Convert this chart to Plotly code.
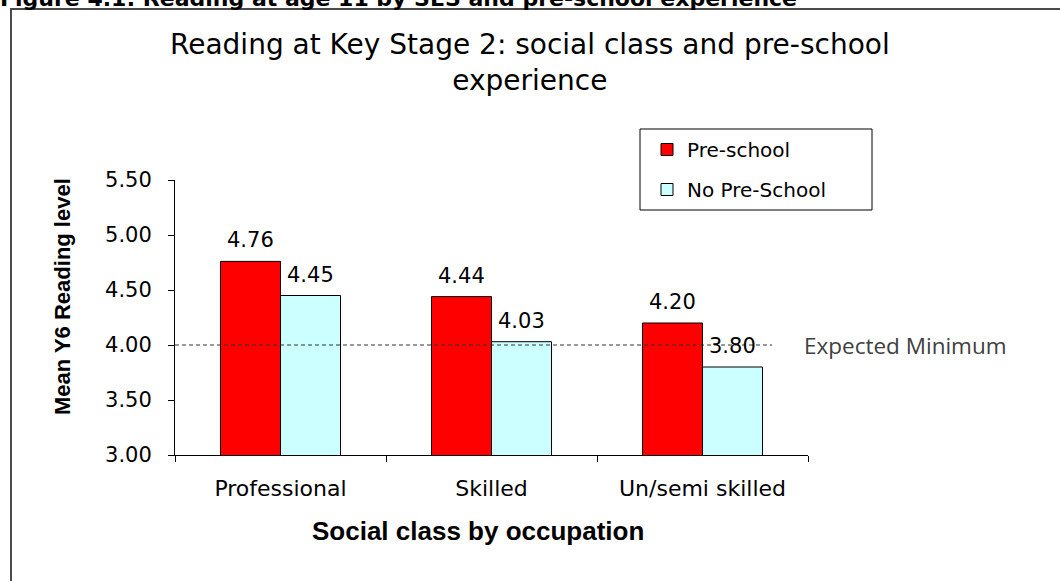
import plotly.graph_objects as go

# ---- data ----
categories = ["Professional", "Skilled", "Un/semi skilled"]
preschool = [4.76, 4.44, 4.20]
no_preschool = [4.45, 4.03, 3.80]
series_names = ["Pre-school", "No Pre-School"]
expected_minimum = 4.0
expected_label = "Expected Minimum"
y_ticks = [3.0, 3.5, 4.0, 4.5, 5.0, 5.5]
chart_title = "Reading at Key Stage 2: social class and pre-school<br>experience"
figure_caption = "Figure 4.1: Reading at age 11 by SES and pre-school experience"
x_title = "Social class by occupation"
y_title = "Mean Y6 Reading level"

# ---- layout helpers (pixel -> paper) ----
W, H = 1060, 581
L, R, T, B = 175, 808, 180, 455


def px(x):
    return (x - L) / (R - L)


def py(y):
    return (B - y) / (B - T)


MAIN_FONT = "DejaVu Sans"
BOLD_FONT = "Liberation Sans, Arial, sans-serif"

fig = go.Figure()
colors = ["#FF0000", "#CCFFFF"]
for i, (name, vals) in enumerate(zip(series_names, [preschool, no_preschool])):
    fig.add_trace(go.Bar(
        x=categories, y=vals, name=name,
        marker=dict(color=colors[i], line=dict(color="#000000", width=1)),
        legendgroup=name,
    ))

annotations = []
# bar value labels
for vals, shift in [(preschool, -30), (no_preschool, 30)]:
    for c, v in zip(categories, vals):
        annotations.append(dict(
            x=c, y=v, xref="x", yref="y", text=f"{v:.2f}", showarrow=False,
            xshift=shift, yshift=7, yanchor="bottom", xanchor="center",
            font=dict(family=MAIN_FONT, size=21, color="#000000"),
        ))

# chart title (two lines)
annotations.append(dict(x=px(530), y=py(63), xref="paper", yref="paper",
                        text=chart_title, showarrow=False,
                        xanchor="center", yanchor="middle",
                        font=dict(family=MAIN_FONT, size=28, color="#000000")))
# figure caption, clipped at top
annotations.append(dict(x=px(-2), y=py(13), xref="paper", yref="paper",
                        text=f"<b>{figure_caption}</b>", showarrow=False,
                        xanchor="left", yanchor="bottom",
                        font=dict(family=MAIN_FONT, size=22, color="#000000")))
# axis titles
annotations.append(dict(x=px(62), y=py(297), xref="paper", yref="paper",
                        text=f"<b>{y_title}</b>", showarrow=False, textangle=-90,
                        xanchor="center", yanchor="middle",
                        font=dict(family=BOLD_FONT, size=22, color="#000000")))
annotations.append(dict(x=px(478), y=py(531), xref="paper", yref="paper",
                        text=f"<b>{x_title}</b>", showarrow=False,
                        xanchor="center", yanchor="middle",
                        font=dict(family=BOLD_FONT, size=26, color="#000000")))
# expected minimum label
annotations.append(dict(x=px(802), y=expected_minimum, xref="paper", yref="y",
                        text=expected_label, showarrow=False, xanchor="left",
                        yanchor="middle",
                        font=dict(family="Open Sans", size=22.5, color="#404040")))

shapes = [
    # chart frame
    dict(type="rect", xref="paper", yref="paper", x0=px(11), x1=px(1075),
         y0=py(600), y1=py(9), line=dict(color="#4a4a4a", width=2),
         fillcolor="rgba(0,0,0,0)", layer="below"),
    # expected minimum dashed line
    dict(type="line", xref="paper", yref="y", x0=0, x1=px(772),
         y0=expected_minimum, y1=expected_minimum,
         line=dict(color="#333333", width=1, dash="4px,3px"), layer="above"),
    # legend box
    dict(type="rect", xref="paper", yref="paper", x0=px(640), x1=px(872),
         y0=py(210), y1=py(129), line=dict(color="#000000", width=1),
         fillcolor="rgba(0,0,0,0)"),
]

fig.update_layout(
    width=W, height=H,
    margin=dict(l=L, r=W - R, t=T, b=H - B, pad=0),
    paper_bgcolor="#FFFFFF", plot_bgcolor="#FFFFFF",
    barmode="group", bargap=0.431, bargroupgap=0,
    showlegend=True,
    legend=dict(x=px(647), y=py(130), xanchor="left", yanchor="top",
                bgcolor="rgba(0,0,0,0)", borderwidth=0, tracegroupgap=11,
                font=dict(family=MAIN_FONT, size=20, color="#000000"),
                traceorder="grouped"),
    annotations=annotations,
    shapes=shapes,
    font=dict(family=MAIN_FONT, color="#000000"),
)
fig.update_yaxes(
    range=[3.0, 5.5], tickvals=y_ticks, ticktext=[f"{v:.2f}" for v in y_ticks],
    showgrid=False, zeroline=False, showline=True, linecolor="#000000", linewidth=1,
    ticks="outside", ticklen=6, tickcolor="#000000", ticklabelstandoff=12,
    tickfont=dict(family=MAIN_FONT, size=21, color="#000000"),
)
fig.update_xaxes(
    showgrid=False, zeroline=False, showline=True, linecolor="#000000", linewidth=1,
    ticks="outside", ticklen=6, tickcolor="#000000", tickson="boundaries",
    ticklabelstandoff=14,
    tickfont=dict(family=MAIN_FONT, size=22, color="#000000"),
)

fig.write_html(
    "out.html",
    config={"displayModeBar": False},
    post_script="document.body.style.margin='0';document.body.style.overflow='hidden';",
)
